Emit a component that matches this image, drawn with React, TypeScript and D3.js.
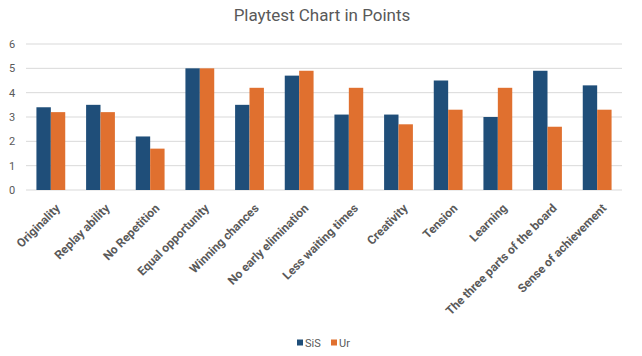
import React from "react";
import * as d3 from "d3";

const categories = [
  "Originality",
  "Replay ability",
  "No Repetition",
  "Equal opportunity",
  "Winning chances",
  "No early elimination",
  "Less waiting times",
  "Creativity",
  "Tension",
  "Learning",
  "The three parts of the board",
  "Sense of achievement",
];
const sisValues = [3.4, 3.5, 2.2, 5, 3.5, 4.7, 3.1, 3.1, 4.5, 3.0, 4.9, 4.3];
const urValues = [3.2, 3.2, 1.7, 5, 4.2, 4.9, 4.2, 2.7, 3.3, 4.2, 2.6, 3.3];
const seriesNames = ["SiS", "Ur"];
const yTicks = [0, 1, 2, 3, 4, 5, 6];
const colors = ["#1f4e79", "#e0702f"];

const W = 642;
const H = 356;
const M = { left: 26, right: 20, top: 44, bottom: 166 };
const FONT = "Roboto, 'Open Sans', sans-serif";

export default function App() {
  const x = d3
    .scaleBand<string>()
    .domain(categories)
    .range([M.left, W - M.right])
    .paddingInner(0.42)
    .paddingOuter(0.21);
  const x1 = d3.scaleBand<string>().domain(seriesNames).range([0, x.bandwidth()]);
  const y = d3.scaleLinear().domain([0, 6]).range([H - M.bottom, M.top]);
  const series = [sisValues, urValues];

  return (
    <svg
      width={W}
      height={H}
      style={{ position: "absolute", left: 0, top: 0, background: "#fff" }}
      fontFamily={FONT}
    >
      <text x={322} y={21} textAnchor="middle" fontSize={17} fill="#595959">
        Playtest Chart in Points
      </text>
      {yTicks.map((t) => (
        <g key={t}>
          <line
            x1={M.left}
            x2={W - M.right}
            y1={y(t)}
            y2={y(t)}
            stroke="#d9d9d9"
            strokeWidth={1}
          />
          <text x={12} y={y(t) + 4} textAnchor="middle" fontSize={11} fill="#595959">
            {t}
          </text>
        </g>
      ))}
      {categories.map((c, i) => (
        <g key={c}>
          {series.map((vals, s) => (
            <rect
              key={s}
              x={(x(c) as number) + (x1(seriesNames[s]) as number)}
              y={y(vals[i])}
              width={x1.bandwidth()}
              height={y(0) - y(vals[i])}
              fill={colors[s]}
            />
          ))}
          <text
            transform={`translate(${(x(c) as number) + x.bandwidth() / 2 + 10},${y(0) + 19}) rotate(-45)`}
            textAnchor="end"
            fontSize={12}
            fontWeight="bold"
            fill="#595959"
          >
            {c}
          </text>
        </g>
      ))}
      {seriesNames.map((n, s) => {
        const lx = s === 0 ? 297 : 331;
        return (
          <g key={n}>
            <rect x={lx} y={339.5} width={6} height={6} fill={colors[s]} />
            <text x={lx + 8} y={346.5} fontSize={11} fill="#595959">
              {n}
            </text>
          </g>
        );
      })}
    </svg>
  );
}
